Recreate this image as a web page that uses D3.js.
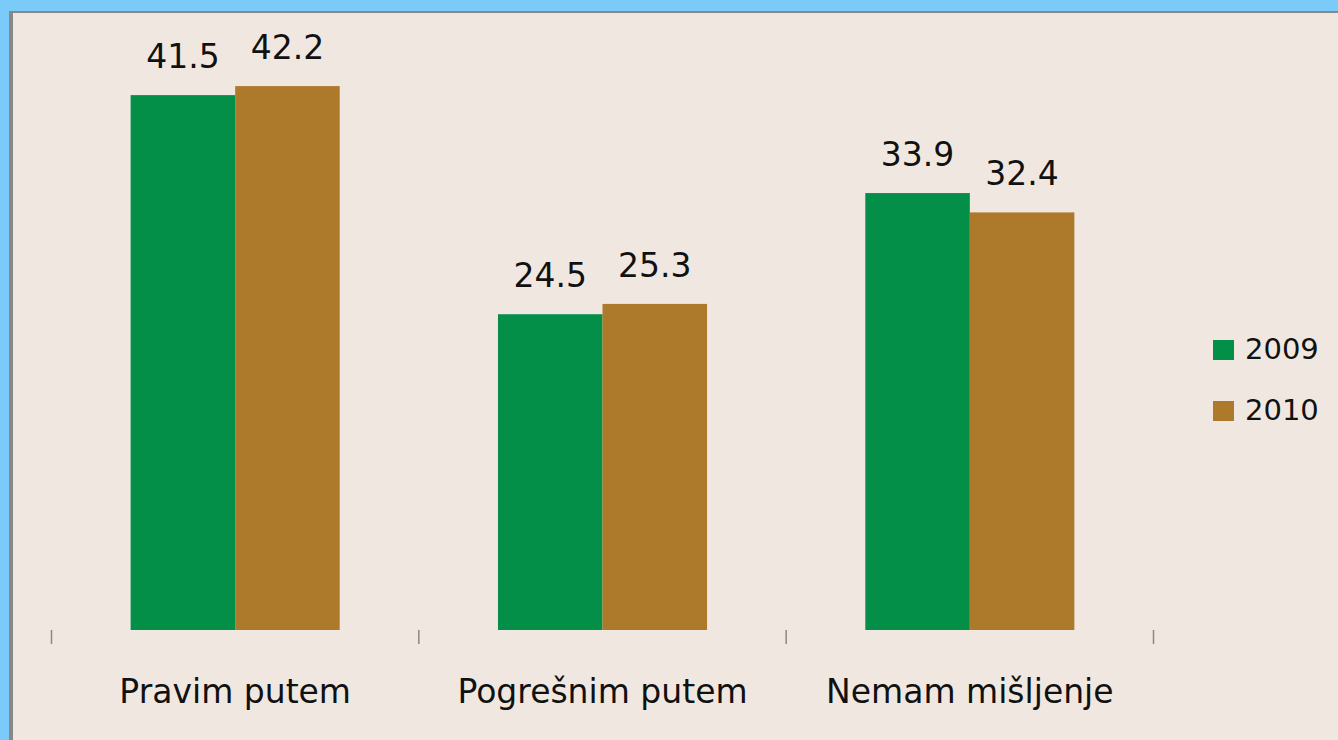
<!DOCTYPE html>
<html>
<head>
<meta charset="utf-8">
<script src="https://cdn.jsdelivr.net/npm/d3@7"></script>
<style>
  body { margin: 0; background: #7acafa; }
  svg { display: block; }
</style>
</head>
<body>
<script>
// Data
const categories = ["Pravim putem", "Pogrešnim putem", "Nemam mišljenje"];
const series = ["2009", "2010"];
const values2009 = [41.5, 24.5, 33.9];
const values2010 = [42.2, 25.3, 32.4];

// Colors
const bgColor = '#f0e8e0';
const frameBlue = '#7acafa';
const frameGray = '#888888';
const colors = ['#038f48', '#ad7a2c'];
const textColor = '#111';

const width = 1338;
const height = 740;
const baseline = 630;

const rows = categories.map((c, i) => ({
  category: c,
  values: [values2009[i], values2010[i]]
}));

const svg = d3.select("body").append("svg")
  .attr("width", width)
  .attr("height", height)
  .attr("font-family", "'DejaVu Sans', sans-serif");

// frame: blue strip top/left, thin gray edge, beige panel
svg.append("rect").attr("width", width).attr("height", height).attr("fill", frameBlue);
svg.append("rect").attr("x", 9).attr("y", 11).attr("width", width - 9).attr("height", height - 11).attr("fill", frameGray);
svg.append("rect").attr("x", 13).attr("y", 13).attr("width", width - 13).attr("height", height - 13).attr("fill", bgColor);

const x0 = d3.scaleBand()
  .domain(categories)
  .range([51.5, 1153.5])
  .padding(0);

const x1 = d3.scaleBand()
  .domain(series)
  .range([0, x0.bandwidth()])
  .paddingInner(0)
  .paddingOuter(0.757);

const y = d3.scaleLinear()
  .domain([0, 45])
  .range([baseline, baseline - 580]);

const group = svg.append("g")
  .selectAll("g")
  .data(rows)
  .join("g")
  .attr("transform", d => `translate(${x0(d.category)},0)`);

const bars = group.selectAll("g")
  .data(d => d.values.map((v, j) => ({ key: series[j], value: v, j })))
  .join("g");

bars.append("rect")
  .attr("x", d => x1(d.key))
  .attr("y", d => y(d.value))
  .attr("width", x1.bandwidth())
  .attr("height", d => y(0) - y(d.value))
  .attr("fill", d => colors[d.j]);

bars.append("text")
  .attr("x", d => x1(d.key) + x1.bandwidth() / 2)
  .attr("y", d => y(d.value) - 27)
  .attr("text-anchor", "middle")
  .attr("font-size", 33)
  .attr("fill", textColor)
  .text(d => d.value.toFixed(1));

// category labels
const xAxis = svg.append("g")
  .attr("transform", `translate(0,${baseline})`)
  .call(d3.axisBottom(x0).tickSize(0).tickPadding(50));

xAxis.select(".domain").remove();
xAxis.selectAll("text")
  .attr("font-family", "'DejaVu Sans', sans-serif")
  .attr("font-size", 33)
  .attr("fill", textColor);

// tick marks at band boundaries
const bounds = categories.map(c => x0(c)).concat([x0.range()[1]]);
svg.append("g")
  .selectAll("line")
  .data(bounds)
  .join("line")
  .attr("x1", d => d)
  .attr("x2", d => d)
  .attr("y1", baseline)
  .attr("y2", baseline + 14)
  .attr("stroke", frameGray)
  .attr("stroke-width", 1.5);

// legend
const legend = svg.append("g")
  .selectAll("g")
  .data(series)
  .join("g")
  .attr("transform", (d, i) => `translate(1213,${340 + i * 61})`);

legend.append("rect")
  .attr("width", 21)
  .attr("height", 20)
  .attr("fill", (d, i) => colors[i]);

legend.append("text")
  .attr("x", 32)
  .attr("y", 19)
  .attr("font-size", 29)
  .attr("fill", textColor)
  .text(d => d);
</script>
</body>
</html>
